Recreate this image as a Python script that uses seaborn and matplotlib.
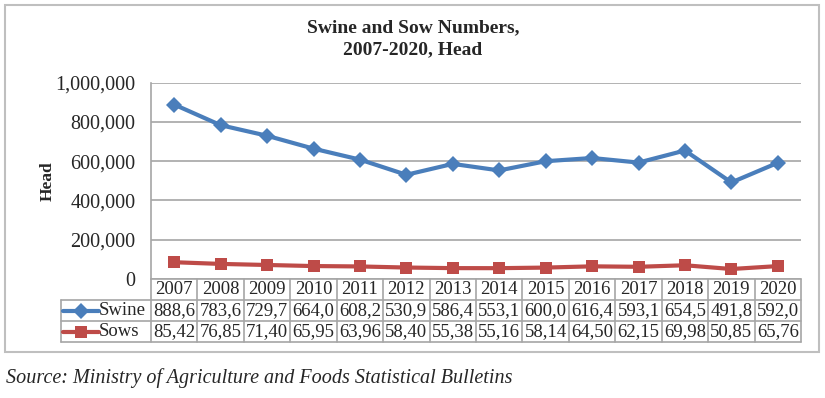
import numpy as np
import pandas as pd
import matplotlib
matplotlib.use("Agg")
import matplotlib.pyplot as plt
from matplotlib.lines import Line2D
from matplotlib.patches import Rectangle
from matplotlib.ticker import FuncFormatter
import seaborn as sns

# data (thousand head, as printed in the data table)
years = [2007, 2008, 2009, 2010, 2011, 2012, 2013, 2014, 2015, 2016, 2017, 2018, 2019, 2020]
swine_k = [888.6, 783.6, 729.7, 664.0, 608.2, 530.9, 586.4, 553.1, 600.0, 616.4, 593.1, 654.5, 491.8, 592.0]
sows_k = [85.42, 76.85, 71.40, 65.95, 63.96, 58.40, 55.38, 55.16, 58.14, 64.50, 62.15, 69.98, 50.85, 65.76]
series_names = ["Swine", "Sows"]
swine_labels = [f"{v:.1f}".replace(".", ",") for v in swine_k]
sows_labels = [f"{v:.2f}".replace(".", ",") for v in sows_k]

BLUE = "#4A7EBB"
RED = "#BE4B48"
GRID = "#A6A6A6"

sns.set_theme(style="white")
plt.rcParams["font.family"] = ["Liberation Serif", "DejaVu Serif"]

df = pd.DataFrame({
    "idx": list(range(len(years))) * 2,
    "value": [v * 1000 for v in swine_k] + [v * 1000 for v in sows_k],
    "series": ["Swine"] * len(years) + ["Sows"] * len(years),
})

W, H = 825, 398
fig = plt.figure(figsize=(W / 100, H / 100), dpi=100)

# outer frame
fig.patches.append(Rectangle((5 / W, 1 - 352 / H), (819 - 5) / W, (352 - 5) / H,
                             transform=fig.transFigure, fill=False,
                             edgecolor="#BFBFBF", linewidth=1.5))

left, right, top, bottom = 151, 801, 82.7, 279
ax = fig.add_axes([left / W, 1 - bottom / H, (right - left) / W, (bottom - top) / H])
sns.lineplot(data=df, x="idx", y="value", hue="series", style="series",
             palette={"Swine": BLUE, "Sows": RED},
             markers={"Swine": "D", "Sows": "s"}, dashes=False,
             linewidth=3, markersize=8, markeredgewidth=0,
             legend=False, ax=ax)
ax.set_xlim(-0.5, len(years) - 0.5)
ax.set_ylim(0, 1_000_000)
ax.set_yticks(np.arange(0, 1_000_001, 200_000))
ax.yaxis.set_major_formatter(FuncFormatter(lambda v, p: f"{int(v):,}"))
ax.tick_params(axis="y", labelsize=14.5, length=0, pad=11)
ax.set_xticks([])
ax.set_xlabel("")
ax.set_ylabel("Head", fontsize=12.5, fontweight="bold", labelpad=0)
ax.grid(axis="y", color=GRID, linewidth=1.2)
ax.set_axisbelow(True)
for s in ["top", "right", "bottom"]:
    ax.spines[s].set_visible(False)
ax.spines["left"].set_color(GRID)
ax.spines["left"].set_linewidth(1.2)

# data table below the plot
tleft, tbottom = 60.7, 342
col_w = (right - left) / len(years)
leg_w = (left - tleft) / col_w
tab = fig.add_axes([tleft / W, 1 - tbottom / H, (right - tleft) / W, (tbottom - bottom) / H])
x0 = -0.5 - leg_w
x1 = len(years) - 0.5
tab.set_xlim(x0, x1)
tab.set_ylim(3, 0)
tab.axis("off")
lk = dict(color=GRID, linewidth=1.2, clip_on=False)
tab.plot([-0.5, x1], [0, 0], **lk)
for r in [1, 2, 3]:
    tab.plot([x0, x1], [r, r], **lk)
tab.plot([x0, x0], [1, 3], **lk)
for i in range(len(years) + 1):
    tab.plot([i - 0.5, i - 0.5], [0, 3], **lk)

fs = 13.5
for i, yr in enumerate(years):
    tab.text(i, 0.5, str(yr), ha="center", va="center", fontsize=fs)
    tab.text(i, 1.5, swine_labels[i], ha="center", va="center", fontsize=fs)
    tab.text(i, 2.5, sows_labels[i], ha="center", va="center", fontsize=fs)

for r, name, col, mk in [(1.5, series_names[0], BLUE, "D"), (2.5, series_names[1], RED, "s")]:
    lx0 = x0 + 0.06
    lx1 = x0 + 0.82
    tab.add_line(Line2D([lx0, lx1], [r, r], color=col, linewidth=3))
    tab.add_line(Line2D([(lx0 + lx1) / 2], [r], color=col, marker=mk,
                        markersize=8 if mk == "D" else 9, markeredgewidth=0))
    tab.text(lx1 + 0.01, r, name, ha="left", va="center", fontsize=fs)

fig.text(413 / W, 1 - 28 / H, "Swine and Sow Numbers,", ha="center", va="center",
         fontsize=14, fontweight="bold")
fig.text(413 / W, 1 - 50 / H, "2007-2020, Head", ha="center", va="center",
         fontsize=14, fontweight="bold")
fig.text(6 / W, 1 - 378 / H, "Source: Ministry of Agriculture and Foods Statistical Bulletins",
         ha="left", va="center", fontsize=14.5, style="italic")

fig.savefig("out.png", dpi=100)
